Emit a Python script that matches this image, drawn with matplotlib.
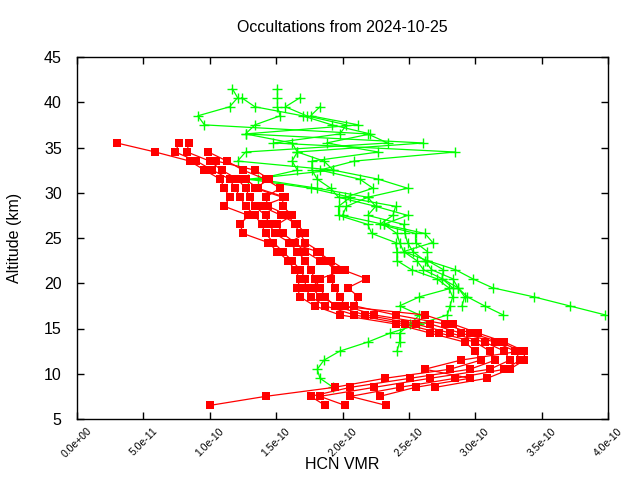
import matplotlib
matplotlib.use("Agg")
import matplotlib.pyplot as plt
from matplotlib.ticker import FuncFormatter

plt.rcParams['font.family'] = ['Liberation Sans', 'DejaVu Sans']

TITLE = "Occultations from 2024-10-25"
X_LABEL = "HCN VMR"
Y_LABEL = "Altitude (km)"
SCALE = 1e-10  # VMR values below are in units of 1e-10

# retrieval altitude grid (km)
ALT_GRID = [41.5, 40.5, 39.5, 38.5, 37.5, 36.5, 35.5, 34.5, 33.5, 32.5,
            31.5, 30.5, 29.5, 28.5, 27.5, 26.5, 25.5, 24.5, 23.5, 22.5,
            21.5, 20.5, 19.5, 18.5, 17.5, 16.5, 15.5, 14.5, 13.5, 12.5,
            11.5, 10.5, 9.5, 8.5, 7.5, 6.5]

# red profiles: (top altitude, VMR values from top downwards)
red_top = [35.5, 35.5, 35.5, 34.5, 33.5, 31.5]
red_vmr = [
    [0.30, 0.59, 0.85, 0.96, 1.08, 1.11, 1.15, 1.11, 1.29, 1.23, 1.25, 1.44, 1.51, 1.59, 1.64,
     1.68, 1.66, 1.68, 1.79, 1.98, 2.40, 2.66, 2.92, 3.00, 3.04, 2.81, 2.32, 1.94, 1.42, 1.00],
    [0.77, 0.74, 0.90, 1.02, 1.15, 1.19, 1.23, 1.27, 1.34, 1.39, 1.42, 1.48, 1.55, 1.62, 1.68,
     1.72, 1.72, 1.76, 1.87, 2.09, 2.47, 2.73, 3.00, 3.11, 3.15, 2.96, 2.51, 2.06, 1.76, 1.87],
    [0.84, 0.83, 1.00, 1.09, 1.21, 1.27, 1.30, 1.34, 1.42, 1.45, 1.49, 1.60, 1.66, 1.72, 1.76,
     1.79, 1.83, 1.87, 1.94, 2.17, 2.55, 2.81, 3.07, 3.22, 3.26, 3.11, 2.66, 2.24, 1.83, 2.02],
    [0.99, 1.13, 1.25, 1.42, 1.53, 1.42, 1.44, 1.59, 1.64, 1.68, 1.72, 1.83, 1.87, 1.94, 1.91,
     1.94, 1.98, 2.02, 2.24, 2.66, 2.89, 3.15, 3.30, 3.34, 3.22, 2.85, 2.43, 2.06, 2.33],
    [1.05, 1.34, 1.45, 1.34, 1.55, 1.55, 1.62, 1.51, 1.55, 1.64, 1.72, 1.83, 2.00, 2.18, 2.04,
     2.12, 2.09, 2.40, 2.77, 2.96, 3.19, 3.34, 2.89, 2.62, 2.96, 2.55, 2.28],
    [1.27, 1.36, 1.57, 1.39, 1.54, 1.66, 1.72, 1.60, 1.81, 1.91, 2.02, 1.83, 1.77, 1.83, 1.97,
     2.62, 2.83, 3.02, 3.22, 3.37, 3.37, 3.26, 3.09, 2.70],
]

# green profiles
green_top = [41.5, 41.5, 40.5, 40.5, 39.5]
green_vmr = [
    [1.17, 1.21, 1.15, 0.91, 0.96, 2.19, 2.34, 1.27, 1.21, 1.93, 1.29, 1.76, 2.06, 1.97, 1.97,
     2.19, 2.22, 2.40, 2.41, 2.41, 2.52, 2.71, 2.80, 2.83, 2.81, 2.79, 2.58, 2.36, 2.19, 1.98,
     1.86, 1.81, 1.83, 1.93],
    [1.51, 1.51, 1.51, 1.53, 1.34, 1.27, 1.62, 1.66, 1.62, 1.66, 1.36, 1.81, 2.19, 2.03, 2.00,
     2.31, 2.41, 2.43, 2.46, 2.56, 2.61, 2.75, 2.83, 2.58, 2.43, 2.58, 2.51, 2.43, 2.43, 2.41],
    [1.24, 1.34, 1.70, 1.92, 2.21, 1.88, 2.27, 1.77, 1.77, 1.81, 1.91, 1.97, 2.25, 2.19, 2.46,
     2.47, 2.49, 2.53, 2.62, 2.67, 2.83, 2.87, 2.94, 3.07, 3.21],
    [1.68, 1.57, 1.73, 2.03, 1.98, 1.48, 2.85, 2.09, 1.83, 2.13, 2.23, 2.02, 2.40, 2.38, 2.28,
     2.55, 2.55, 2.64, 2.64, 2.85, 2.98, 3.13, 3.44, 3.71, 3.98],
    [1.83, 1.76, 2.12, 1.27, 2.61, 1.66, 1.86, 1.93, 2.27, 2.49, 2.19, 2.25, 2.49, 2.31, 2.62,
     2.68, 2.46, 2.64, 2.76, 2.75, 2.87, 2.92, 2.90],
]

X_TICKS = [0.0, 0.5, 1.0, 1.5, 2.0, 2.5, 3.0, 3.5, 4.0]
Y_TICKS = [5, 10, 15, 20, 25, 30, 35, 40, 45]


def alts_for(top, n):
    i = ALT_GRID.index(top)
    return ALT_GRID[i:i + n]


fig = plt.figure(figsize=(6.4, 4.8), dpi=100)
ax = fig.add_axes([77 / 640, 1 - 419 / 480, (608 - 77) / 640, (419 - 57) / 480])

for top, vals in zip(green_top, green_vmr):
    ax.plot([v * SCALE for v in vals], alts_for(top, len(vals)), color='#00ff00',
            lw=0.9, marker='+', ms=7, mew=1.0, zorder=2)

for top, vals in zip(red_top, red_vmr):
    ax.plot([v * SCALE for v in vals], alts_for(top, len(vals)), color='#ff0000',
            lw=0.9, marker='s', ms=6.2, mew=0, zorder=3)

ax.set_xlim(X_TICKS[0] * SCALE, X_TICKS[-1] * SCALE)
ax.set_ylim(Y_TICKS[0], Y_TICKS[-1])
ax.set_xticks([t * SCALE for t in X_TICKS])
ax.set_yticks(Y_TICKS)
ax.xaxis.set_major_formatter(FuncFormatter(lambda v, p: "%.1e" % v))
ax.tick_params(direction='in', length=5, width=1, top=True, right=True,
               colors='black')
ax.tick_params(axis='y', labelsize=11.5, pad=11)
ax.tick_params(axis='x', labelsize=7.5, pad=5)
for lab in ax.get_xticklabels():
    lab.set_rotation(45)
    lab.set_ha('center')
    lab.set_va('top')
    lab.set_rotation_mode('default')
for s in ax.spines.values():
    s.set_linewidth(1.0)

ax.set_xlabel(X_LABEL, fontsize=11.5)
ax.set_ylabel(Y_LABEL, fontsize=11.5)
ax.xaxis.set_label_coords(0.5, -0.105)
ax.yaxis.set_label_coords(-0.104, 0.5)
fig.text((77 + 608) / 2 / 640, 1 - 27 / 480, TITLE, ha='center', va='center', fontsize=11.5)

fig.savefig("out.png", dpi=100)
